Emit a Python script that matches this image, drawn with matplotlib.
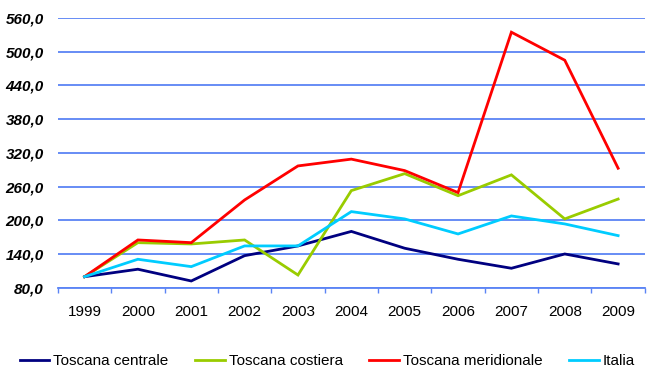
import matplotlib
matplotlib.use("Agg")
import matplotlib.pyplot as plt
from matplotlib.ticker import FixedLocator, FuncFormatter

plt.rcParams['font.family'] = ['Liberation Sans', 'DejaVu Sans']

years = ["1999", "2000", "2001", "2002", "2003", "2004",
         "2005", "2006", "2007", "2008", "2009"]

toscana_centrale = [100.0, 113.3, 92.4, 137.4, 154.7, 180.5,
                    150.6, 131.0, 115.0, 140.4, 122.7]
toscana_costiera = [100.0, 160.5, 158.2, 165.3, 103.0, 253.0,
                    283.2, 244.0, 281.0, 202.7, 238.0]
toscana_meridionale = [100.0, 165.3, 160.5, 236.4, 296.9, 309.0,
                       288.6, 249.5, 534.6, 484.8, 292.8]
italia = [100.0, 131.0, 117.9, 154.7, 154.7, 215.7,
          202.7, 176.0, 208.0, 193.8, 173.0]

y_ticks = [80, 140, 200, 260, 320, 380, 440, 500, 560]

series = [
    ("Toscana centrale", toscana_centrale, "#000080"),
    ("Toscana costiera", toscana_costiera, "#99cc00"),
    ("Toscana meridionale", toscana_meridionale, "#ff0000"),
    ("Italia", italia, "#00ccff"),
]

grid_blue = "#5b84f5"

fig = plt.figure(figsize=(6.5, 3.73), dpi=100)
ax = fig.add_axes([0.089, 0.228, 0.903, 0.724])

x = list(range(len(years)))
for name, vals, col in series:
    ax.plot(x, vals, color=col, lw=2.0, label=name, solid_joinstyle='miter')

ax.set_xlim(-0.5, len(years) - 0.5)
ax.set_ylim(y_ticks[0], y_ticks[-1])

ax.set_yticks(y_ticks)
ax.yaxis.set_major_formatter(FuncFormatter(lambda v, p: f"{v:.1f}".replace(".", ",")))
for lab in ax.get_yticklabels():
    lab.set_fontweight("bold")
    lab.set_fontstyle("italic")
    lab.set_fontsize(11)
ax.tick_params(axis='y', length=0, pad=10)

ax.set_xticks(x)
ax.set_xticklabels(years, fontsize=11)
ax.xaxis.set_minor_locator(FixedLocator([i - 0.5 for i in range(len(years) + 1)]))
ax.tick_params(axis='x', which='major', length=0, pad=12.5)
ax.tick_params(axis='x', which='minor', length=3.6, color=grid_blue, width=1)

ax.grid(axis='y', color=grid_blue, lw=1.3)
ax.set_axisbelow(True)
for side in ["top", "left", "right"]:
    ax.spines[side].set_visible(False)
ax.spines["bottom"].set_color(grid_blue)
ax.spines["bottom"].set_linewidth(1.3)

fig.legend(loc="center left", bbox_to_anchor=(0.03, 0.032), ncol=4, frameon=False,
           fontsize=11, handlelength=1.96, handletextpad=0.26,
           columnspacing=1.72, borderaxespad=0.0, borderpad=0.0)

fig.savefig("out.png", dpi=100)
